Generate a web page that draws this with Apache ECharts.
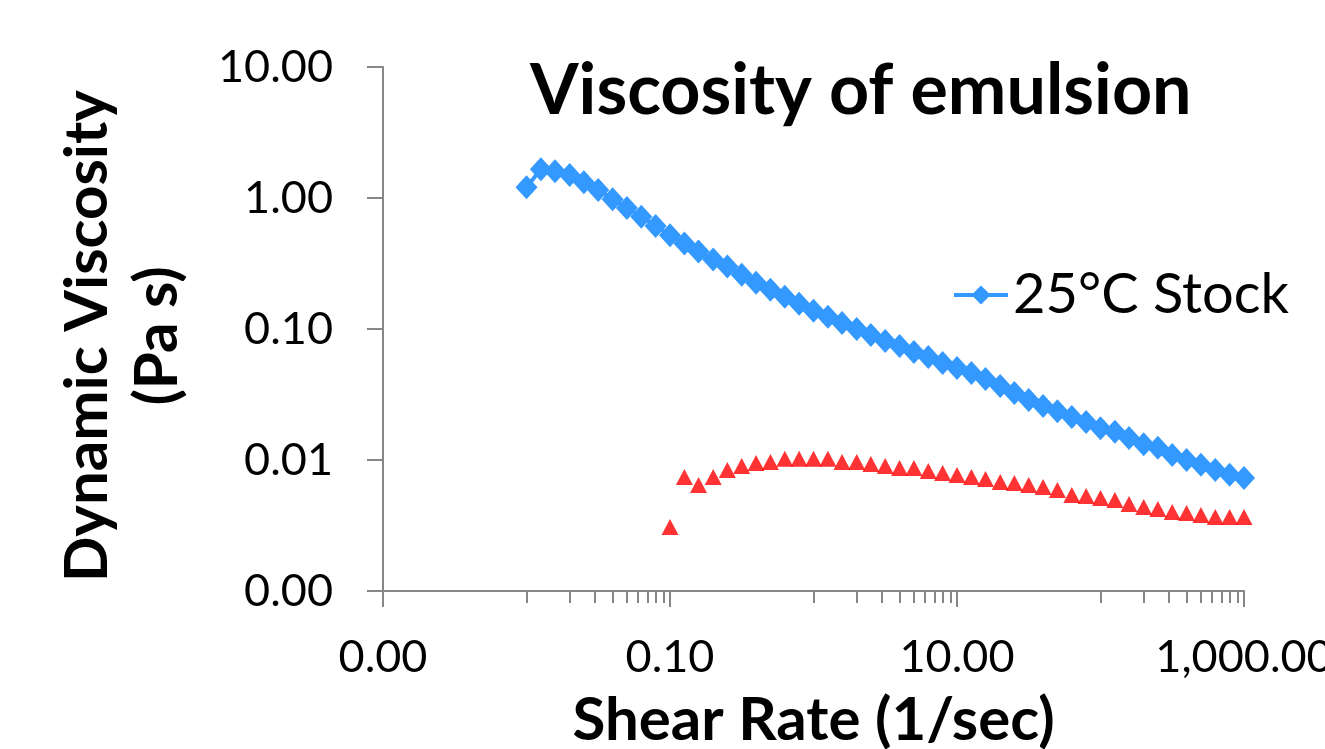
<!DOCTYPE html>
<html>
<head>
<meta charset="utf-8">
<script src="https://cdn.jsdelivr.net/npm/echarts@6.0.0/dist/echarts.min.js"></script>
<style>
html,body{margin:0;padding:0;background:#fff;overflow:hidden;}
#chart{width:1325px;height:749px;}
</style>
</head>
<body>
<div id="chart"></div>
<script>
// Shear rate (1/sec)
const shearRate = [0.01,0.0126,0.0158,0.02,0.0251,0.0316,0.0398,0.0501,0.0631,0.0794,
  0.1,0.126,0.158,0.2,0.251,0.316,0.398,0.501,0.631,0.794,
  1,1.26,1.58,2,2.51,3.16,3.98,5.01,6.31,7.94,
  10,12.6,15.8,20,25.1,31.6,39.8,50.1,63.1,79.4,
  100,126,158,200,251,316,398,501,631,794,1000];
// 25°C Stock viscosity (Pa s)
const stockViscosity = [1.21,1.66,1.60,1.50,1.32,1.15,0.98,0.84,0.72,0.61,
  0.52,0.45,0.39,0.34,0.30,0.26,0.225,0.199,0.176,0.156,
  0.138,0.124,0.111,0.100,0.090,0.081,0.0743,0.0668,0.0611,0.0550,
  0.0503,0.0461,0.0415,0.0367,0.0325,0.0287,0.0258,0.0236,0.0213,0.0195,
  0.0175,0.0164,0.0147,0.0132,0.0124,0.0109,0.0100,0.0092,0.0084,0.0077,0.0073];
// Second series (red triangles), starts at 0.1 1/sec
const redShearRate = [0.1,0.126,0.158,0.2,0.251,0.316,0.398,0.501,0.631,0.794,
  1,1.26,1.58,2,2.51,3.16,3.98,5.01,6.31,7.94,
  10,12.6,15.8,20,25.1,31.6,39.8,50.1,63.1,79.4,
  100,126,158,200,251,316,398,501,631,794,1000];
const redViscosity = [0.00308,0.00741,0.00644,0.00741,0.00839,0.00900,0.00948,0.00966,0.0102,0.0102,
  0.0102,0.0102,0.00966,0.00966,0.00932,0.00900,0.00869,0.00869,0.00824,0.00796,
  0.00768,0.00741,0.00716,0.00679,0.00667,0.00644,0.00622,0.00590,0.00541,0.00531,
  0.00513,0.00495,0.00461,0.00438,0.00423,0.00401,0.00394,0.00380,0.00367,0.00367,0.00367];
// Axis tick labels
const xMajorTicks = [0.001,0.1,10,1000];
const xMinorTicks = [0.01,0.02,0.03,0.04,0.05,0.06,0.07,0.08,0.09,
  1,2,3,4,5,6,7,8,9,100,200,300,400,500,600,700,800,900];
const yTicks = [0.001,0.01,0.1,1,10];

const fmt = v => Number(v).toLocaleString('en-US',{minimumFractionDigits:2,maximumFractionDigits:2});
const FONT = 'Lato';
const axisGray = '#868686';
const blue = '#3399FF';

const chart = echarts.init(document.getElementById('chart'), null, {renderer:'canvas'});
chart.setOption({
  animation:false,
  backgroundColor:'#ffffff',
  title:{
    text:'Viscosity of emulsion',
    left:530, top:56, padding:0,
    textStyle:{fontFamily:FONT,fontWeight:'bold',fontSize:70,color:'#000'}
  },
  legend:{
    data:['25°C Stock'],
    left:952, top:267, padding:0,
    itemWidth:54, itemHeight:24, itemGap:10,
    lineStyle:{width:4,color:blue},
    itemStyle:{color:blue},
    textStyle:{fontFamily:FONT,fontSize:56,color:'#000'}
  },
  grid:{left:383, top:67, right:81, bottom:158, containLabel:false, outerBoundsMode:'none'},
  xAxis:[{
    type:'log', logBase:10, min:0.001, max:1000,
    name:'Shear Rate (1/sec)', nameLocation:'middle', nameGap:100,
    nameTextStyle:{fontFamily:FONT,fontWeight:'bold',fontSize:60,color:'#000'},
    axisLine:{show:true,lineStyle:{color:axisGray,width:2}},
    axisTick:{show:true,length:16,customValues:xMajorTicks,lineStyle:{color:axisGray,width:2}},
    axisLabel:{customValues:xMajorTicks,formatter:fmt,margin:44,fontFamily:FONT,fontSize:45,color:'#000',hideOverlap:false},
    splitLine:{show:false}
  },{
    type:'log', logBase:10, min:0.001, max:1000, position:'bottom', gridIndex:0,
    axisLine:{show:false},
    axisTick:{show:true,length:12,customValues:xMinorTicks,lineStyle:{color:axisGray,width:2}},
    axisLabel:{show:false},
    splitLine:{show:false}
  }],
  yAxis:{
    type:'log', logBase:10, min:0.001, max:10,
    name:'Dynamic Viscosity\n(Pa s)', nameLocation:'middle', nameRotate:90, nameGap:190,
    nameTextStyle:{fontFamily:FONT,fontWeight:'bold',fontSize:60,color:'#000',lineHeight:70,align:'center',padding:[0,14,0,0]},
    axisLine:{show:true,lineStyle:{color:axisGray,width:2}},
    axisTick:{show:true,length:16,customValues:yTicks,lineStyle:{color:axisGray,width:2}},
    axisLabel:{customValues:yTicks,formatter:fmt,margin:50,fontFamily:FONT,fontSize:45,color:'#000'},
    splitLine:{show:false}
  },
  series:[{
    name:'25°C Stock', type:'line', xAxisIndex:0,
    data:shearRate.map((x,i)=>[x,stockViscosity[i]]),
    symbol:'diamond', symbolSize:[22,24], showSymbol:true,
    itemStyle:{color:blue},
    lineStyle:{color:blue,width:4}
  },{
    name:'Series 2', type:'scatter', xAxisIndex:0,
    data:redShearRate.map((x,i)=>[x,redViscosity[i]]),
    symbol:'triangle', symbolSize:[17,16],
    itemStyle:{color:'#FF0000'}
  }]
});
</script>
</body>
</html>
